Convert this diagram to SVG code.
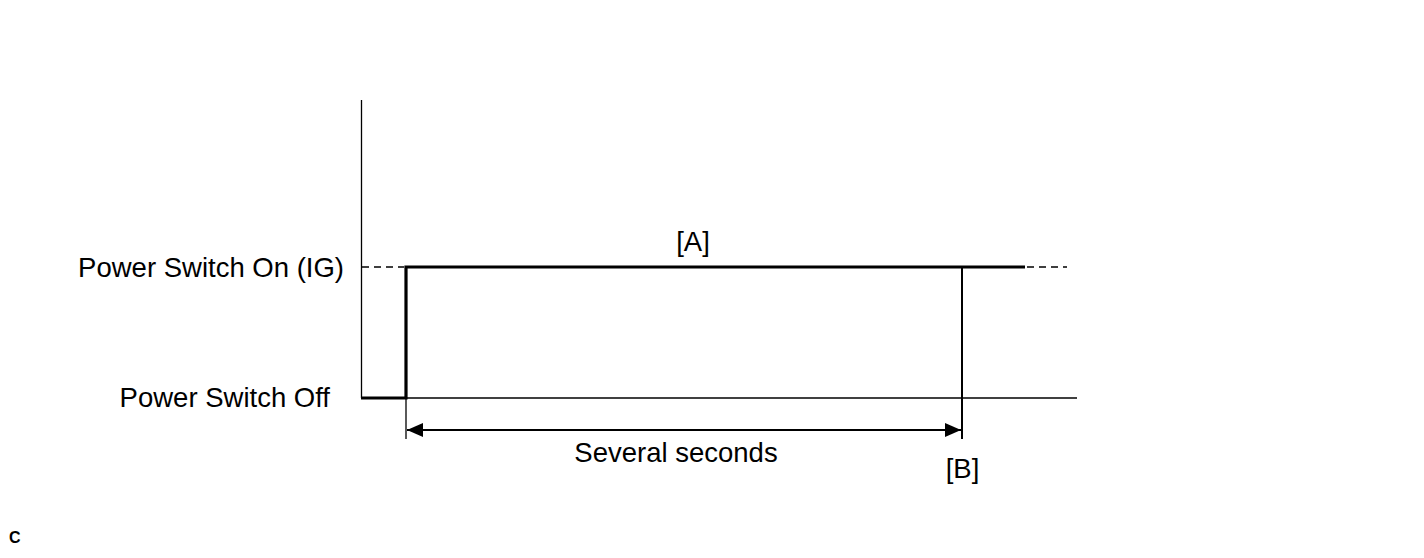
<svg xmlns="http://www.w3.org/2000/svg" width="1424" height="558" viewBox="0 0 1424 558">
<style>
.t{font-family:"Liberation Sans",Arial,sans-serif;font-size:27.5px;fill:#000}
.thin{stroke:#000;stroke-width:1.3;fill:none}
.thick{stroke:#000;stroke-width:3.2;fill:none}
.dash{stroke:#000;stroke-width:1.5;stroke-dasharray:7,5;fill:none}
</style>
<defs>
<marker id="ah" viewBox="0 0 16 14" refX="16" refY="7" markerWidth="16" markerHeight="14" markerUnits="userSpaceOnUse" orient="auto-start-reverse">
<path d="M0,0 L16,7 L0,14 Z" fill="#000"/>
</marker>
</defs>
<g id="axes">
<line class="thin" x1="361.5" y1="100" x2="361.5" y2="398"/>
<line class="thin" x1="361" y1="398" x2="1077" y2="398"/>
</g>
<g id="signal">
<polyline class="thick" points="361,398 406,398 406,267 1025,267"/>
<line class="thin" x1="406" y1="398" x2="406" y2="439"/>
<line class="dash" x1="362" y1="267" x2="404" y2="267"/>
<line class="dash" x1="1027" y1="267" x2="1067" y2="267"/>
<line stroke="#000" stroke-width="2" x1="962" y1="267" x2="962" y2="439"/>
</g>
<g id="connectors">
<line stroke="#000" stroke-width="2" x1="407" y1="430" x2="961" y2="430" marker-start="url(#ah)" marker-end="url(#ah)"/>
</g>
<g id="labels">
<text class="t" x="344" y="277" text-anchor="end">Power Switch On (IG)</text>
<text class="t" x="330" y="407" text-anchor="end">Power Switch Off</text>
<text class="t" x="693" y="251" text-anchor="middle">[A]</text>
<text class="t" x="676" y="462" text-anchor="middle">Several seconds</text>
<text class="t" x="962.5" y="478" text-anchor="middle">[B]</text>
<text x="9" y="543" style="font-family:'Liberation Sans',Arial,sans-serif;font-size:16px;font-weight:bold">C</text>
</g>
</svg>
